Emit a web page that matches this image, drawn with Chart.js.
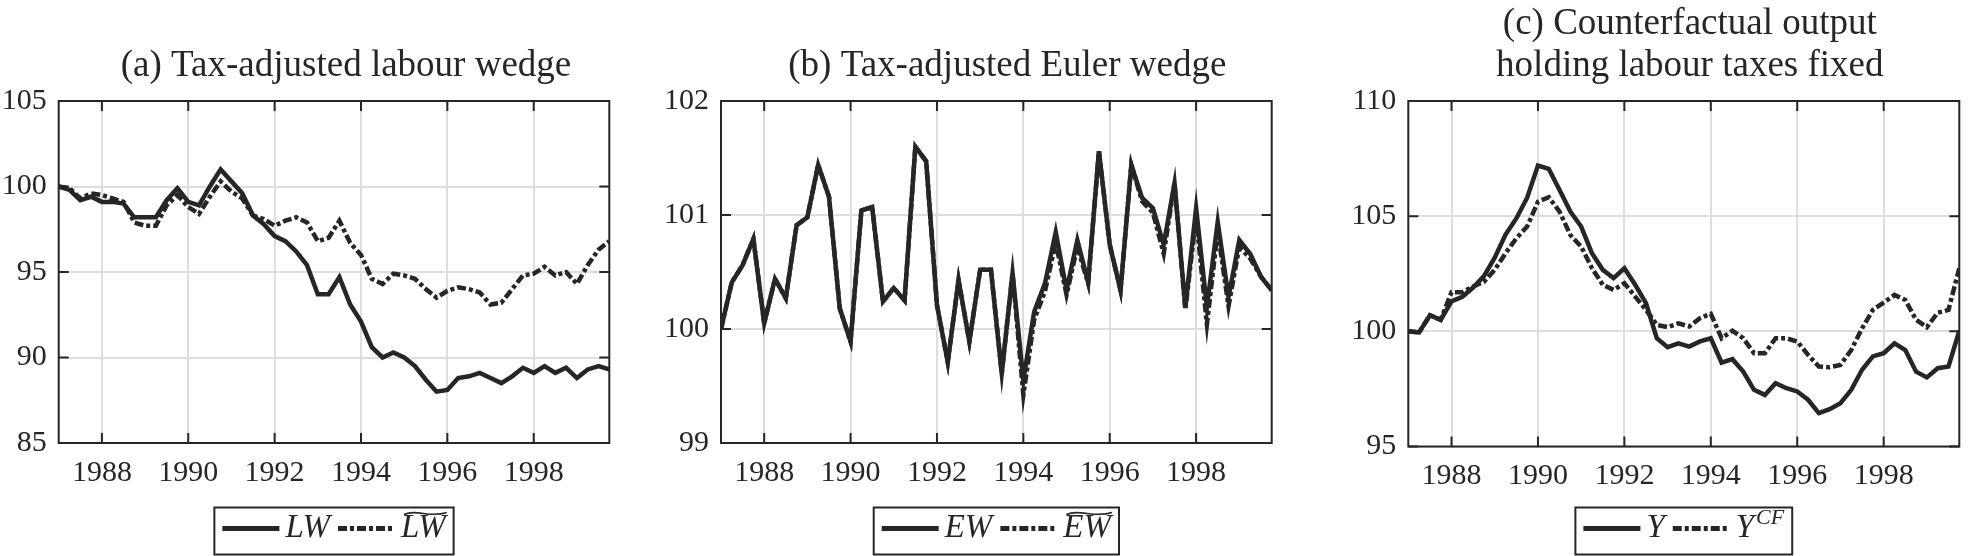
<!DOCTYPE html>
<html>
<head>
<meta charset="utf-8">
<script src="https://cdn.jsdelivr.net/npm/chart.js@4.4.1/dist/chart.umd.min.js"></script>
<style>
  html, body { margin: 0; padding: 0; background: #fff; }
  #wrap { position: relative; width: 1968px; height: 556px; overflow: hidden; }
  canvas { position: absolute; top: 0; }
</style>
</head>
<body>
<div id="wrap">
  <canvas id="chartA" width="660" height="556" style="left:0px"></canvas>
  <canvas id="chartB" width="670" height="556" style="left:660px"></canvas>
  <canvas id="chartC" width="638" height="556" style="left:1330px"></canvas>
</div>
<script>
// quarterly observations, 1987Q1 .. 1999Q4
const quarters = [
  1987.00, 1987.25, 1987.50, 1987.75, 1988.00, 1988.25, 1988.50, 1988.75,
  1989.00, 1989.25, 1989.50, 1989.75, 1990.00, 1990.25, 1990.50, 1990.75,
  1991.00, 1991.25, 1991.50, 1991.75, 1992.00, 1992.25, 1992.50, 1992.75,
  1993.00, 1993.25, 1993.50, 1993.75, 1994.00, 1994.25, 1994.50, 1994.75,
  1995.00, 1995.25, 1995.50, 1995.75, 1996.00, 1996.25, 1996.50, 1996.75,
  1997.00, 1997.25, 1997.50, 1997.75, 1998.00, 1998.25, 1998.50, 1998.75,
  1999.00, 1999.25, 1999.50, 1999.75
]
const yearTicks = [1988, 1990, 1992, 1994, 1996, 1998]

// (a) labour wedge
const lw = [
  100.0, 99.8, 99.2, 99.4, 99.1, 99.1, 99.0, 98.2, 98.2, 98.2, 99.2, 99.9, 99.1,
  98.9, 100.0, 101.0, 100.3, 99.6, 98.3, 97.8, 97.1, 96.8, 96.2, 95.4, 93.7, 93.7,
  94.7, 93.1, 92.1, 90.6, 90.0, 90.3, 90.0, 89.5, 88.7, 88.0, 88.1, 88.8, 88.9,
  89.1, 88.8, 88.5, 88.9, 89.4, 89.1, 89.5, 89.1, 89.4, 88.8, 89.3, 89.5, 89.3
]
const lwTilde = [
  100.0, 99.9, 99.3, 99.6, 99.5, 99.3, 99.1, 97.9, 97.7, 97.7, 98.9, 99.5, 98.8,
  98.4, 99.4, 100.3, 99.7, 99.3, 98.3, 98.1, 97.7, 98.0, 98.2, 97.9, 96.8, 97.0,
  98.0, 96.7, 96.0, 94.6, 94.3, 94.9, 94.8, 94.6, 94.0, 93.5, 93.9, 94.1, 94.0,
  93.8, 93.1, 93.2, 94.0, 94.8, 94.9, 95.3, 94.8, 95.0, 94.3, 95.4, 96.3, 96.8
]
const lwTicks = [85, 90, 95, 100, 105]

// (b) Euler wedge
const ew = [
  100.00, 100.41, 100.56, 100.79, 100.05, 100.44, 100.27, 100.91, 100.98, 101.44,
  101.16, 100.18, 99.89, 101.04, 101.07, 100.24, 100.36, 100.25, 101.60, 101.47,
  100.21, 99.71, 100.43, 99.89, 100.52, 100.52, 99.61, 100.49, 99.55, 100.15,
  100.40, 100.85, 100.34, 100.78, 100.41, 101.56, 100.74, 100.34, 101.44, 101.15,
  101.06, 100.74, 101.28, 100.19, 101.06, 100.19, 100.94, 100.28, 100.78, 100.66,
  100.46, 100.34
]
const ewTilde = [
  100.00, 100.41, 100.56, 100.79, 100.05, 100.44, 100.27, 100.91, 100.98, 101.44,
  101.16, 100.18, 99.89, 101.04, 101.07, 100.24, 100.36, 100.25, 101.60, 101.47,
  100.21, 99.71, 100.43, 99.89, 100.52, 100.52, 99.61, 100.49, 99.42, 100.08,
  100.33, 100.76, 100.30, 100.72, 100.40, 101.56, 100.74, 100.34, 101.44, 101.12,
  101.02, 100.66, 101.28, 100.17, 100.98, 100.04, 100.86, 100.20, 100.72, 100.62,
  100.46, 100.34
]
const ewTicks = [99, 100, 101, 102]

// (c) output and counterfactual
const output = [
  100.0, 99.95, 100.7, 100.5, 101.3, 101.5, 101.9, 102.4, 103.2, 104.2, 104.9,
  105.8, 107.2, 107.05, 106.14, 105.20, 104.55, 103.39, 102.67, 102.31, 102.74,
  102.02, 101.22, 99.70, 99.31, 99.48, 99.34, 99.56, 99.70, 98.64, 98.79, 98.25,
  97.46, 97.24, 97.75, 97.53, 97.39, 97.03, 96.45, 96.62, 96.88, 97.46, 98.33,
  98.91, 99.05, 99.48, 99.19, 98.25, 98.00, 98.40, 98.47, 100.03
]
const outputCF = [
  100.0, 99.95, 100.7, 100.5, 101.7, 101.7, 101.95, 102.15, 102.67, 103.39, 104.04,
  104.55, 105.63, 105.82, 105.20, 104.18, 103.68, 102.74, 102.02, 101.80, 102.09,
  101.51, 100.93, 100.28, 100.18, 100.35, 100.21, 100.57, 100.76, 99.70, 100.03,
  99.70, 99.05, 99.05, 99.70, 99.70, 99.56, 98.98, 98.47, 98.44, 98.54, 99.19,
  100.13, 100.93, 101.25, 101.58, 101.36, 100.50, 100.18, 100.81, 100.93, 102.74
]
const yTicks = [95, 100, 105, 110]

const INK = '#262626'
const GRID = '#dedede'
const SERIF = '"Liberation Serif", "Times New Roman", serif'
const DASH = [9, 3, 4, 3]

const toPoints = vals => vals.map((v, i) => ({ x: quarters[i], y: v }))

// MATLAB-style box with inward ticks on every side
const framePlugin = {
  id: 'frame',
  afterDatasetsDraw(chart) {
    const { ctx, chartArea: a, scales } = chart
    const len = 10
    ctx.save()
    ctx.strokeStyle = INK
    ctx.lineWidth = 2
    ctx.beginPath()
    scales.x.ticks.forEach(t => {
      const px = scales.x.getPixelForValue(t.value)
      ctx.moveTo(px, a.bottom); ctx.lineTo(px, a.bottom - len)
      ctx.moveTo(px, a.top); ctx.lineTo(px, a.top + len)
    })
    scales.y.ticks.forEach(t => {
      const py = scales.y.getPixelForValue(t.value)
      ctx.moveTo(a.left, py); ctx.lineTo(a.left + len, py)
      ctx.moveTo(a.right, py); ctx.lineTo(a.right - len, py)
    })
    ctx.stroke()
    ctx.strokeRect(a.left, a.top, a.right - a.left, a.bottom - a.top)
    ctx.restore()
  }
}

const titlePlugin = {
  id: 'panelTitle',
  afterDraw(chart, args, opts) {
    const { ctx, chartArea: a } = chart
    const cx = (a.left + a.right) / 2 + (opts.offset || 0)
    ctx.save()
    ctx.fillStyle = INK
    ctx.font = '37px ' + SERIF
    ctx.textAlign = 'center'
    ctx.textBaseline = 'alphabetic'
    const n = opts.lines.length
    opts.lines.forEach((line, i) => {
      ctx.fillText(line, cx, 75.5 - (n - 1 - i) * 42)
    })
    ctx.restore()
  }
}

// boxed legend with math-style labels (italic, wide tilde, superscript)
const legendPlugin = {
  id: 'mathLegend',
  afterDraw(chart, args, opts) {
    const { ctx, chartArea: a } = chart
    const mainFont = 'italic 33px ' + SERIF
    const supFont = 'italic 22px ' + SERIF
    const sample = 57, pad = 8, gap = 6, itemGap = 8
    ctx.save()
    const widths = opts.items.map(it => {
      ctx.font = mainFont
      let w = ctx.measureText(it.text).width
      if (it.sup) { ctx.font = supFont; w += 2 + ctx.measureText(it.sup).width }
      return w
    })
    let total = pad
    widths.forEach((w, i) => { total += sample + gap + w + (i < widths.length - 1 ? itemGap : pad) })
    const top = 507.5, h = 47
    let x = (a.left + a.right) / 2 - total / 2
    ctx.strokeStyle = INK
    ctx.lineWidth = 2
    ctx.strokeRect(x, top, total, h)
    x += pad
    const lineY = top + 21, baseY = top + 29.5
    opts.items.forEach((it, i) => {
      ctx.beginPath()
      ctx.lineWidth = 5
      ctx.lineCap = 'butt'
      ctx.setLineDash(it.dash || [])
      ctx.moveTo(x, lineY); ctx.lineTo(x + sample, lineY)
      ctx.stroke()
      ctx.setLineDash([])
      x += sample + gap
      ctx.fillStyle = INK
      ctx.font = mainFont
      ctx.textBaseline = 'alphabetic'
      ctx.fillText(it.text, x, baseY)
      const tw = ctx.measureText(it.text).width
      if (it.tilde) {
        const ty = top + 5, x0 = x + 3, x1 = x + tw + 1
        ctx.beginPath()
        ctx.lineWidth = 1.6
        ctx.moveTo(x0, ty + 2)
        ctx.bezierCurveTo(x0 + (x1 - x0) * 0.3, ty - 4, x0 + (x1 - x0) * 0.6, ty + 6, x1, ty)
        ctx.stroke()
      }
      if (it.sup) {
        ctx.font = supFont
        ctx.fillText(it.sup, x + tw + 2, baseY - 13)
      }
      x += widths[i] + itemGap
    })
    ctx.restore()
  }
}

function makePanel(id, cfg) {
  const datasets = [
    { data: toPoints(cfg.solid), borderDash: [], order: 0 },
    { data: toPoints(cfg.dashed), borderDash: DASH, order: 1 }
  ].map(d => ({
    ...d,
    borderColor: INK,
    borderWidth: 4.5,
    borderCapStyle: 'butt',
    pointRadius: 0,
    tension: 0,
    fill: false
  }))

  new Chart(document.getElementById(id), {
    type: 'line',
    data: { datasets },
    options: {
      responsive: false,
      animation: false,
      events: [],
      layout: { padding: cfg.padding },
      scales: {
        x: {
          type: 'linear',
          min: 1987,
          max: 1999.75,
          afterBuildTicks: s => { s.ticks = yearTicks.map(v => ({ value: v })) },
          afterFit: s => { s.height = 60 },
          grid: { color: GRID, lineWidth: 2, drawTicks: false },
          border: { display: false },
          ticks: {
            padding: 12,
            color: INK,
            font: { family: SERIF, size: 30 },
            callback: v => String(v)
          }
        },
        y: {
          min: cfg.ticks[0],
          max: cfg.ticks[cfg.ticks.length - 1],
          afterBuildTicks: s => { s.ticks = cfg.ticks.map(v => ({ value: v })) },
          afterFit: s => { s.width = cfg.yWidth },
          grid: { color: GRID, lineWidth: 2, drawTicks: false },
          border: { display: false },
          ticks: {
            padding: 12,
            color: INK,
            font: { family: SERIF, size: 30 },
            callback: v => String(v)
          }
        }
      },
      plugins: {
        legend: { display: false },
        tooltip: { enabled: false },
        panelTitle: { lines: cfg.title, offset: cfg.titleOffset },
        mathLegend: { items: cfg.legend }
      }
    },
    plugins: [framePlugin, titlePlugin, legendPlugin]
  })
}

makePanel('chartA', {
  solid: lw, dashed: lwTilde, ticks: lwTicks,
  yWidth: 58.7,
  padding: { left: 0, right: 50.7, top: 101, bottom: 53 },
  title: ['(a) Tax-adjusted labour wedge'], titleOffset: 12,
  legend: [{ text: 'LW' }, { text: 'LW', tilde: true, dash: DASH }]
})

makePanel('chartB', {
  solid: ew, dashed: ewTilde, ticks: ewTicks,
  yWidth: 61,
  padding: { left: 0, right: 58.3, top: 101, bottom: 53 },
  title: ['(b) Tax-adjusted Euler wedge'], titleOffset: 11,
  legend: [{ text: 'EW' }, { text: 'EW', tilde: true, dash: DASH }]
})

makePanel('chartC', {
  solid: output, dashed: outputCF, ticks: yTicks,
  yWidth: 78.3,
  padding: { left: 0, right: 8.7, top: 101, bottom: 49.5 },
  title: ['(c) Counterfactual output', 'holding labour taxes fixed'], titleOffset: 6,
  legend: [{ text: 'Y' }, { text: 'Y', sup: 'CF', dash: DASH }]
})
</script>
</body>
</html>
